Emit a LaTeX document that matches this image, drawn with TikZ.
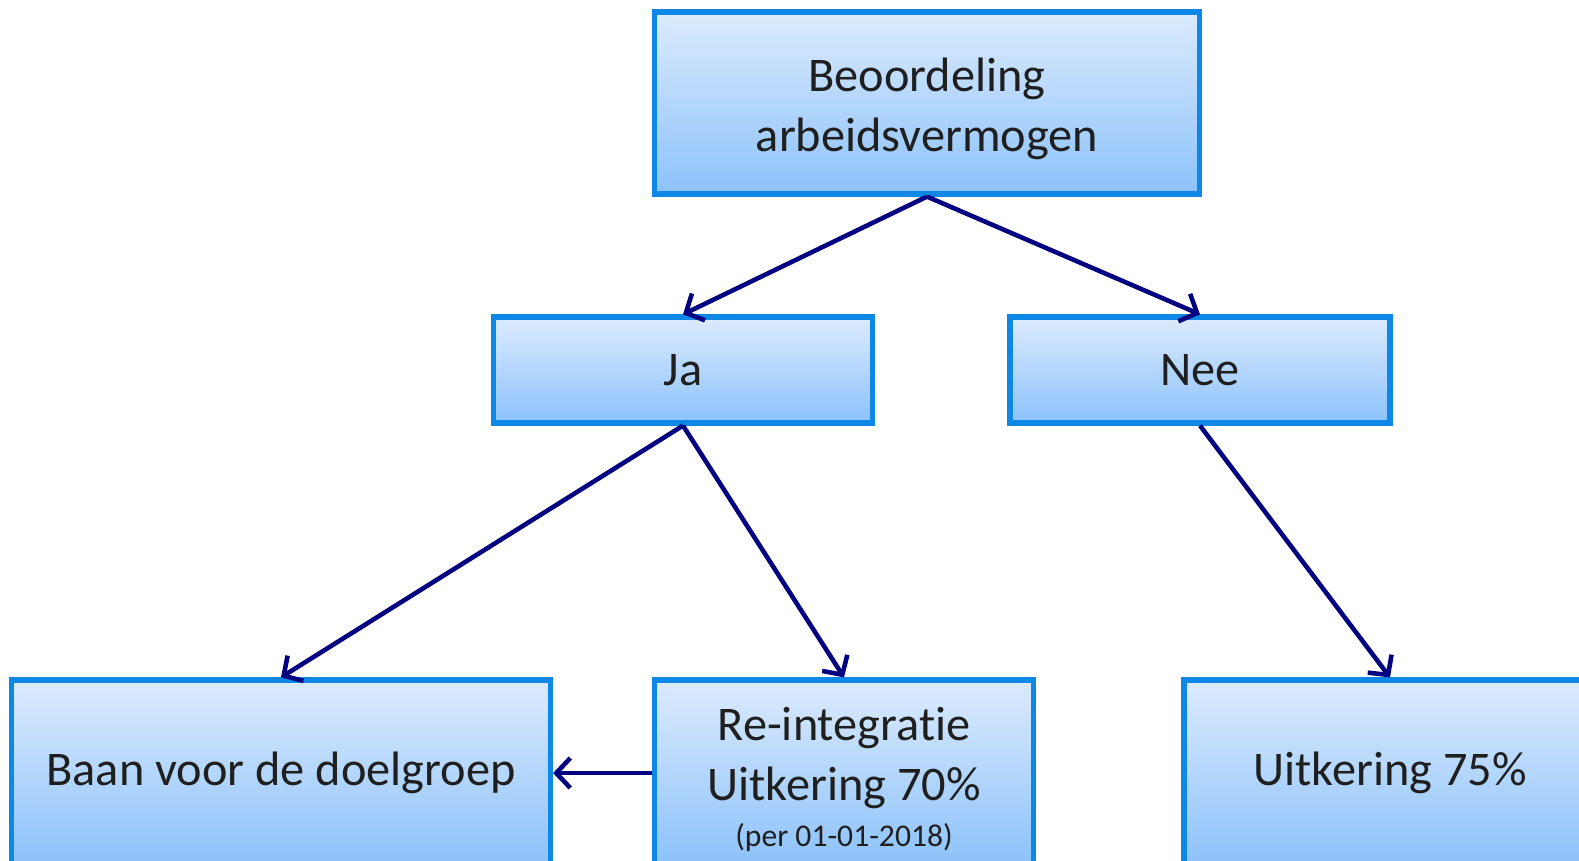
\documentclass[tikz,border=0pt]{standalone}
\usepackage{fontspec}
\setmainfont{Carlito}[Ligatures=NoCommon]
\usetikzlibrary{arrows.meta,shadows}
\definecolor{rand}{HTML}{0E88E6}
\definecolor{vulboven}{HTML}{DCEBFD}
\definecolor{vulonder}{HTML}{8CC2FA}
\definecolor{pijlkleur}{HTML}{000080}
\newcommand{\steun}{\rule{0pt}{26pt}}

\begin{document}
\begin{tikzpicture}[x=0.02cm,y=-0.02cm,
  blok/.style={draw=rand, line width=3pt, top color=vulboven, bottom color=vulonder,
    inner sep=0pt, align=center, text=black!88,
    font=\fontsize{27.5}{34}\selectfont,
    drop shadow={opacity=0.25, shadow xshift=1.5pt, shadow yshift=-1.5pt}},
  pijl/.style={draw=pijlkleur, line width=2.6pt, -{Straight Barb[length=8pt,width=17pt]}}]
\useasboundingbox (0,0) rectangle (1579,861);
\node[blok, minimum width=10.9cm, minimum height=3.64cm] (beoordeling) at (927,103) {\steun Beoordeling\\arbeidsvermogen};
\node[blok, minimum width=7.58cm, minimum height=2.12cm] (ja) at (683,370) {Ja};
\node[blok, minimum width=7.6cm, minimum height=2.12cm] (nee) at (1200,370) {Nee};
\node[blok, minimum width=10.78cm, minimum height=3.72cm] (baan) at (281,773) {Baan voor de doelgroep};
\node[blok, minimum width=7.58cm, minimum height=3.72cm] (reintegratie) at (844,773) {\steun Re-integratie\\Uitkering 70\%\\[-8pt]{\fontsize{18}{21}\selectfont (per 01-01-2018)}};
\node[blok, minimum width=8.24cm, minimum height=3.72cm] (uitkering) at (1390,773) {Uitkering 75\%};
% pijlen
\draw[pijl] (beoordeling.south) -- (ja.north);
\draw[pijl] (beoordeling.south) -- (nee.north);
\draw[pijl] (ja.south) -- (baan.north);
\draw[pijl] (ja.south) -- (reintegratie.north);
\draw[pijl] (nee.south) -- (uitkering.north);
\draw[pijl] (reintegratie.west) -- (baan.east);
\end{tikzpicture}
\end{document}
